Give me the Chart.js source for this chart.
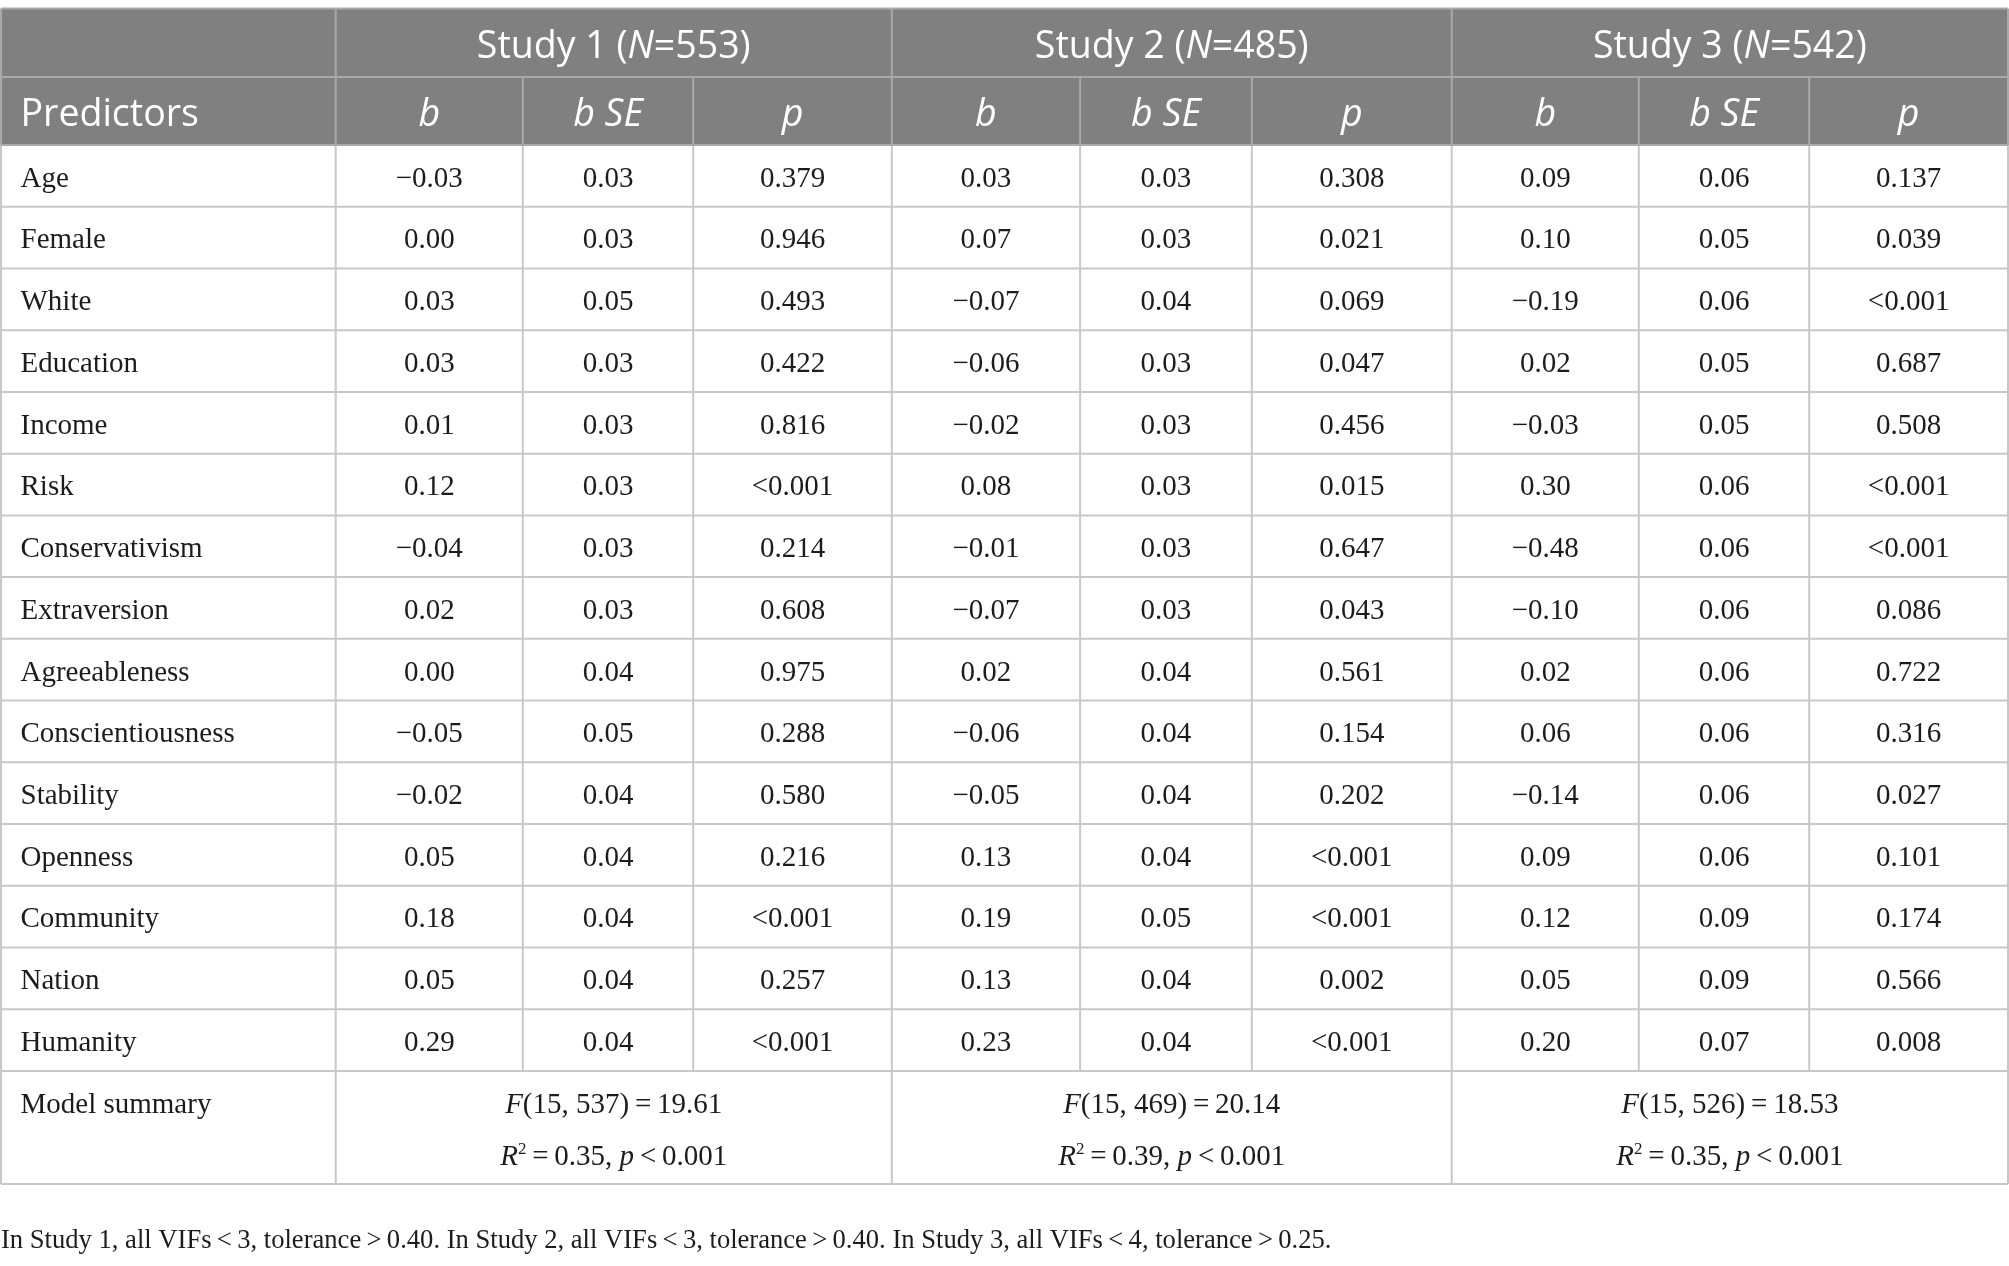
<!DOCTYPE html>
<html><head><meta charset="utf-8">
<script src="https://cdn.jsdelivr.net/npm/chart.js@4.4.0/dist/chart.umd.min.js"></script>
<style>html,body{margin:0;padding:0;background:#fff}#wrap{width:2009px;height:1266px}</style>
</head><body><div id="wrap"><canvas id="c" width="2009" height="1266"></canvas></div>
<script>
// ---------- data ----------
const predictors = ['Age','Female','White','Education','Income','Risk','Conservativism','Extraversion','Agreeableness','Conscientiousness','Stability','Openness','Community','Nation','Humanity'];
const studyNames = ['Study 1','Study 2','Study 3'];
const sampleSizes = [553, 485, 542];
const subColumns = ['b', 'b SE', 'p'];
const s1B  = [-0.03,0.00,0.03,0.03,0.01,0.12,-0.04,0.02,0.00,-0.05,-0.02,0.05,0.18,0.05,0.29];
const s1SE = [0.03,0.03,0.05,0.03,0.03,0.03,0.03,0.03,0.04,0.05,0.04,0.04,0.04,0.04,0.04];
const s1P  = ['0.379','0.946','0.493','0.422','0.816','<0.001','0.214','0.608','0.975','0.288','0.580','0.216','<0.001','0.257','<0.001'];
const s2B  = [0.03,0.07,-0.07,-0.06,-0.02,0.08,-0.01,-0.07,0.02,-0.06,-0.05,0.13,0.19,0.13,0.23];
const s2SE = [0.03,0.03,0.04,0.03,0.03,0.03,0.03,0.03,0.04,0.04,0.04,0.04,0.05,0.04,0.04];
const s2P  = ['0.308','0.021','0.069','0.047','0.456','0.015','0.647','0.043','0.561','0.154','0.202','<0.001','<0.001','0.002','<0.001'];
const s3B  = [0.09,0.10,-0.19,0.02,-0.03,0.30,-0.48,-0.10,0.02,0.06,-0.14,0.09,0.12,0.05,0.20];
const s3SE = [0.06,0.05,0.06,0.05,0.05,0.06,0.06,0.06,0.06,0.06,0.06,0.06,0.09,0.09,0.07];
const s3P  = ['0.137','0.039','<0.001','0.687','0.508','<0.001','<0.001','0.086','0.722','0.316','0.027','0.101','0.174','0.566','0.008'];
const modelDf1 = [15, 15, 15];
const modelDf2 = [537, 469, 526];
const modelF = ['19.61', '20.14', '18.53'];
const modelR2 = ['0.35', '0.39', '0.35'];
const modelP = ['<0.001', '<0.001', '<0.001'];
const vifMax = [3, 3, 4];
const toleranceMin = ['0.40', '0.40', '0.25'];

// ---------- layout (not data) ----------
const W = 2009, H = 1266;
const colEdges = [1, 335.7, 522.8, 693.2, 891.8, 1080.1, 1251.8, 1451.7, 1638.8, 1809.2, 2008];
const headTop = 8.5, head1Bottom = 77, head2Bottom = 145, rowH = 61.73, sumH = 113;
const sumBottom = head2Bottom + rowH * predictors.length + sumH;
const footY = 1239;
const SANS = '"Open Sans"', SERIF = '"Liberation Serif"';
const HS = 37.5, BS = 29, FS = 26.6;
const headBg = '#808080', headLine = '#a9a9a9', bodyLine = '#c8c8c8', ink = '#1c1c1c';

const columns = [[s1B,s1SE,s1P],[s2B,s2SE,s2P],[s3B,s3SE,s3P]];
const fmtB = v => (v < 0 ? '\u2212' : '') + Math.abs(v).toFixed(2);

function drawRuns(ctx, runs, x, y, align) {
  let total = 0;
  runs.forEach(r => { ctx.font = r.f; r.w = ctx.measureText(r.t).width; total += r.w; });
  let cx = align === 'center' ? x - total / 2 : x;
  ctx.textAlign = 'left';
  runs.forEach(r => { ctx.font = r.f; ctx.fillText(r.t, cx, y + (r.dy || 0)); cx += r.w; });
}

const tablePlugin = {
  id: 'tablePlugin',
  afterDraw(chart) {
    const ctx = chart.ctx;
    const X = v => chart.scales.x.getPixelForValue(v);
    const Y = v => chart.scales.y.getPixelForValue(v);
    const line = (x1, y1, x2, y2, c) => {
      ctx.strokeStyle = c; ctx.lineWidth = 2;
      ctx.beginPath(); ctx.moveTo(X(x1), Y(y1)); ctx.lineTo(X(x2), Y(y2)); ctx.stroke();
    };
    ctx.save();
    ctx.textBaseline = 'alphabetic';
    // header background
    ctx.fillStyle = headBg;
    ctx.fillRect(X(colEdges[0]), Y(headTop), X(colEdges[10]) - X(colEdges[0]), Y(head2Bottom) - Y(headTop));
    // header lines
    line(colEdges[0], headTop, colEdges[10], headTop, headLine);
    line(colEdges[0], head1Bottom, colEdges[10], head1Bottom, headLine);
    [0, 1, 4, 7, 10].forEach(i => line(colEdges[i], headTop, colEdges[i], head2Bottom, headLine));
    [2, 3, 5, 6, 8, 9].forEach(i => line(colEdges[i], head1Bottom, colEdges[i], head2Bottom, headLine));
    // body grid
    const bodyRows = predictors.length;
    for (let r = 0; r <= bodyRows; r++) {
      const y = head2Bottom + rowH * r;
      line(colEdges[0], y, colEdges[10], y, bodyLine);
    }
    line(colEdges[0], sumBottom, colEdges[10], sumBottom, bodyLine);
    const bodyEnd = head2Bottom + rowH * bodyRows;
    colEdges.forEach((e, i) => line(e, head2Bottom, e, bodyEnd, bodyLine));
    [0, 1, 4, 7, 10].forEach(i => line(colEdges[i], bodyEnd, colEdges[i], sumBottom, bodyLine));
    line(colEdges[0], head2Bottom, colEdges[10], head2Bottom, headLine);

    // header text
    ctx.fillStyle = '#ffffff';
    const hc1 = Y((headTop + head1Bottom) / 2) + HS * 0.36 + 1.5;
    studyNames.forEach((s, g) => {
      const cx = X((colEdges[1 + 3 * g] + colEdges[4 + 3 * g]) / 2);
      drawRuns(ctx, [
        { t: s + ' (', f: `${HS}px ${SANS}` },
        { t: 'N', f: `italic ${HS}px ${SANS}` },
        { t: '=' + sampleSizes[g] + ')', f: `${HS}px ${SANS}` }
      ], cx, hc1, 'center');
    });
    const hc2 = Y((head1Bottom + head2Bottom) / 2) + HS * 0.36 + 1;
    drawRuns(ctx, [{ t: 'Predictors', f: `${HS}px ${SANS}` }], X(colEdges[0] + 19.5), hc2, 'left');
    for (let g = 0; g < 3; g++) {
      subColumns.forEach((sc, k) => {
        const ci = 1 + 3 * g + k;
        drawRuns(ctx, [{ t: sc, f: `italic ${HS}px ${SANS}` }], X((colEdges[ci] + colEdges[ci + 1]) / 2), hc2, 'center');
      });
    }

    // body text
    ctx.fillStyle = ink;
    const bf = `${BS}px ${SERIF}`, bi = `italic ${BS}px ${SERIF}`;
    predictors.forEach((name, r) => {
      const yb = Y(head2Bottom + rowH * (r + 0.5)) + BS * 0.34 + 1;
      drawRuns(ctx, [{ t: name, f: bf }], X(colEdges[0] + 19.5), yb, 'left');
      columns.forEach((cols, g) => {
        const vals = [fmtB(cols[0][r]), cols[1][r].toFixed(2), cols[2][r]];
        vals.forEach((v, k) => {
          const ci = 1 + 3 * g + k;
          drawRuns(ctx, [{ t: v, f: bf }], X((colEdges[ci] + colEdges[ci + 1]) / 2), yb, 'center');
        });
      });
    });
    // model summary
    const sy1 = Y(bodyEnd + 32) + BS * 0.34;
    const sy2 = Y(bodyEnd + 84) + BS * 0.34;
    drawRuns(ctx, [{ t: 'Model summary', f: bf }], X(colEdges[0] + 19.5), sy1, 'left');
    const th = '\u2009';
    for (let g = 0; g < 3; g++) {
      const cx = X((colEdges[1 + 3 * g] + colEdges[4 + 3 * g]) / 2);
      drawRuns(ctx, [
        { t: 'F', f: bi },
        { t: `(${modelDf1[g]}, ${modelDf2[g]})${th}=${th}${modelF[g]}`, f: bf }
      ], cx, sy1, 'center');
      drawRuns(ctx, [
        { t: 'R', f: bi },
        { t: '2', f: `${Math.round(BS * 0.6)}px ${SERIF}`, dy: -BS * 0.38 },
        { t: `${th}=${th}${modelR2[g]}, `, f: bf },
        { t: 'p', f: bi },
        { t: `${th}${modelP[g].replace('<', '<' + th)}`, f: bf }
      ], cx, sy2, 'center');
    }
    // footnote
    const ff = `${FS}px ${SERIF}`;
    const foot = studyNames.map((s, g) => `In ${s}, all VIFs${th}<${th}${vifMax[g]}, tolerance${th}>${th}${toleranceMin[g]}.`).join(' ');
    drawRuns(ctx, [{ t: foot, f: ff }], X(1), Y(footY) + FS * 0.34, 'left');
    ctx.restore();
  }
};

new Chart(document.getElementById('c'), {
  type: 'scatter',
  data: { datasets: [] },
  options: {
    responsive: false,
    animation: false,
    devicePixelRatio: 1,
    layout: { padding: 0 },
    plugins: { legend: { display: false }, tooltip: { enabled: false } },
    scales: {
      x: { type: 'linear', display: false, min: 0, max: W },
      y: { type: 'linear', display: false, min: 0, max: H, reverse: true }
    }
  },
  plugins: [tablePlugin]
});
</script>
</body></html>
